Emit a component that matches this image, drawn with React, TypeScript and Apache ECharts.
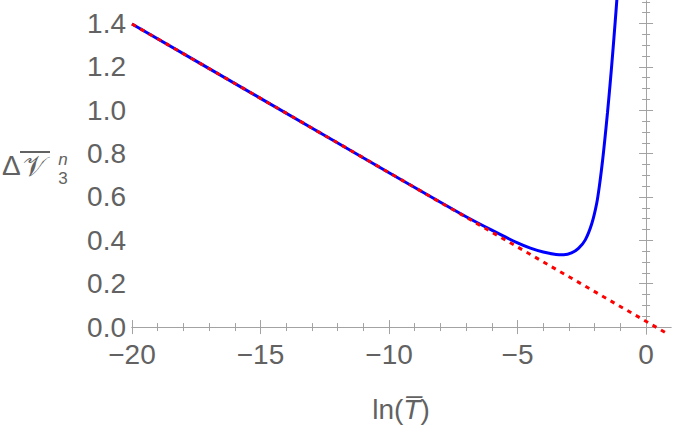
import React, { useEffect, useRef } from 'react';
import * as echarts from 'echarts';

// ---- data ----
const xMajorTicks = [-20, -15, -10, -5, 0];
const xMinorTicks = [-19, -18, -17, -16, -14, -13, -12, -11, -9, -8, -7, -6, -4, -3, -2, -1];
const yMajorTicks = [0, 0.2, 0.4, 0.6, 0.8, 1.0, 1.2, 1.4];
const yMinorTicks = [0.05, 0.1, 0.15, 0.25, 0.3, 0.35, 0.45, 0.5, 0.55, 0.65, 0.7, 0.75, 0.85, 0.9, 0.95, 1.05, 1.1, 1.15, 1.25, 1.3, 1.35, 1.45, 1.5];

const blueX = [-20, -15, -10, -8, -7, -6, -5, -4.5, -4, -3.5, -3.2, -2.9, -2.63, -2.37, -2.11, -1.92, -1.8, -1.7, -1.6, -1.5, -1.4, -1.3, -1.2, -1.13];
const blueY = [1.398, 1.055, 0.712, 0.576, 0.509, 0.447, 0.388, 0.364, 0.346, 0.335, 0.334, 0.342, 0.363, 0.401, 0.478, 0.571, 0.665, 0.76, 0.87, 0.99, 1.12, 1.26, 1.41, 1.52];

const redX = [-20, 0.85];
const redY = [1.398, -0.032];

const X_MIN = -20;
const X_MAX = 0.97;
const Y_MIN = -0.032;
const Y_MAX = 1.504;

const FRAME = '#a3a3a3';
const LABEL = '#626262';
const FONT = '"Liberation Sans", Arial, sans-serif';

const fmtX = (v: number) => (v < 0 ? '\u2212' + Math.abs(v) : String(v));
const fmtY = (v: number) => v.toFixed(1);

function xAxis(position: 'top' | 'bottom', ticks: number[], len: number, main: boolean) {
  return {
    type: 'value',
    position,
    min: X_MIN,
    max: X_MAX,
    axisLine: { show: main, lineStyle: { color: FRAME, width: 1 } },
    axisTick: { show: true, inside: true, length: len, customValues: ticks, lineStyle: { color: FRAME, width: 1 } },
    axisLabel: main && position === 'bottom'
      ? { show: true, customValues: ticks, formatter: fmtX, color: LABEL, fontSize: 28, fontFamily: FONT, margin: 6 }
      : { show: false },
    splitLine: { show: false },
  };
}

function yAxis(position: 'left' | 'right', ticks: number[], len: number, main: boolean) {
  return {
    type: 'value',
    position,
    min: Y_MIN,
    max: Y_MAX,
    axisLine: { show: main, lineStyle: { color: FRAME, width: 1 } },
    axisTick: { show: true, inside: true, length: len, customValues: ticks, lineStyle: { color: FRAME, width: 1 } },
    axisLabel: main && position === 'left'
      ? { show: true, customValues: ticks, formatter: fmtY, color: LABEL, fontSize: 28, fontFamily: FONT, margin: 6 }
      : { show: false },
    splitLine: { show: false },
  };
}

export default function App() {
  const ref = useRef<HTMLDivElement>(null);
  useEffect(() => {
    const chart = echarts.init(ref.current!, null, { renderer: 'svg' });
    const option = {
      animation: false,
      grid: { left: 132, right: 4, top: 1, bottom: 94, containLabel: false },
      xAxis: [
        xAxis('bottom', xMajorTicks, 7, true),
        xAxis('top', xMajorTicks, 7, true),
        xAxis('bottom', xMinorTicks, 4, false),
        xAxis('top', xMinorTicks, 4, false),
      ],
      yAxis: [
        yAxis('left', yMajorTicks, 7, true),
        yAxis('right', yMajorTicks, 7, true),
        yAxis('left', yMinorTicks, 4, false),
        yAxis('right', yMinorTicks, 4, false),
      ],
      series: [
        {
          type: 'line',
          xAxisIndex: 0,
          yAxisIndex: 0,
          data: blueX.map((x, i) => [x, blueY[i]]),
          showSymbol: false,
          smooth: 0.3,
          lineStyle: { color: '#0000ff', width: 3 },
          clip: true,
          z: 2,
        },
        {
          type: 'line',
          xAxisIndex: 0,
          yAxisIndex: 0,
          data: redX.map((x, i) => [x, redY[i]]),
          showSymbol: false,
          lineStyle: { color: '#ff0000', width: 3, type: [4.5, 5.2], cap: 'butt' },
          clip: true,
          z: 3,
        },
      ],
      graphic: [
        {
          type: 'text',
          x: 401,
          y: 409,
          style: {
            text: 'ln({it|T\u0305})',
            fill: LABEL,
            font: `28px ${FONT}`,
            align: 'center',
            verticalAlign: 'middle',
            rich: { it: { fontStyle: 'italic', fontSize: 28, fontFamily: FONT, fill: LABEL } },
          },
        },
        {
          type: 'text',
          x: 2,
          y: 165,
          style: { text: '\u0394', fill: LABEL, font: `28px ${FONT}`, verticalAlign: 'middle' },
        },
        {
          type: 'text',
          x: 34,
          y: 166,
          style: { text: '\uD835\uDCB1', fill: LABEL, font: `28px "DejaVu Sans", "Noto Sans", sans-serif`, align: 'center', verticalAlign: 'middle' },
        },
        {
          type: 'line',
          shape: { x1: 20, y1: 152, x2: 50, y2: 152 },
          style: { stroke: LABEL, lineWidth: 2 },
        },
        {
          type: 'text',
          x: 63,
          y: 159.5,
          style: { text: 'n', fill: LABEL, font: `italic 17px ${FONT}`, align: 'center', verticalAlign: 'middle' },
        },
        {
          type: 'text',
          x: 63,
          y: 178,
          style: { text: '3', fill: LABEL, font: `17px ${FONT}`, align: 'center', verticalAlign: 'middle' },
        },
      ],
    };
    chart.setOption(option as any);
    return () => chart.dispose();
  }, []);
  return <div ref={ref} style={{ position: 'absolute', left: 0, top: 0, width: 675, height: 428 }} />;
}
